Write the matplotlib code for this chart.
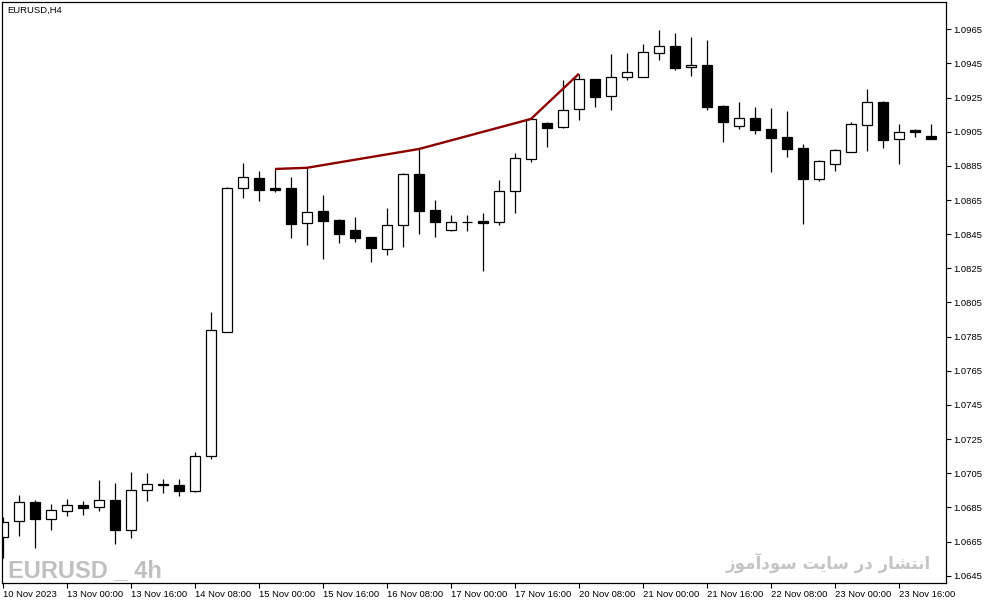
import matplotlib
matplotlib.use("Agg")
import matplotlib.pyplot as plt
from matplotlib.patches import Rectangle

plt.rcParams['font.family'] = ['Liberation Sans', 'DejaVu Sans']

# ---- data (EURUSD H4) ----
opens = [1.06678, 1.06769, 1.06882, 1.06784, 1.06827, 1.06864, 1.06851, 1.06892, 1.06719, 1.06950,
         1.06989, 1.06981, 1.06948, 1.07151, 1.07879, 1.08719, 1.08777, 1.08721, 1.08719, 1.08514,
         1.08584, 1.08531, 1.08473, 1.08432, 1.08366, 1.08501, 1.08801, 1.08590, 1.08473, 1.08520,
         1.08526, 1.08520, 1.08701, 1.08892, 1.09101, 1.09076, 1.09181, 1.09357, 1.09258, 1.09369,
         1.09369, 1.09509, 1.09552, 1.09427, 1.09441, 1.09201, 1.09085, 1.09129, 1.09066, 1.09019,
         1.08955, 1.08775, 1.08863, 1.08933, 1.09091, 1.09224, 1.09006, 1.09060, 1.09025]
highs = [1.06795, 1.06923, 1.06892, 1.06870, 1.06899, 1.06888, 1.07011, 1.06993, 1.07057, 1.07052,
         1.07015, 1.07015, 1.07175, 1.07993, 1.08725, 1.08867, 1.08820, 1.08832, 1.08785, 1.08839,
         1.08680, 1.08537, 1.08551, 1.08432, 1.08603, 1.08807, 1.08949, 1.08650, 1.08562, 1.08562,
         1.08572, 1.08767, 1.08924, 1.09125, 1.09105, 1.09353, 1.09390, 1.09357, 1.09505, 1.09511,
         1.09564, 1.09646, 1.09628, 1.09605, 1.09587, 1.09207, 1.09224, 1.09195, 1.09189, 1.09172,
         1.08978, 1.08885, 1.08949, 1.09107, 1.09300, 1.09230, 1.09095, 1.09064, 1.09095]
lows = [1.06552, 1.06684, 1.06614, 1.06718, 1.06801, 1.06806, 1.06831, 1.06637, 1.06671, 1.06889,
        1.06936, 1.06919, 1.06938, 1.07134, 1.07875, 1.08664, 1.08646, 1.08699, 1.08430, 1.08389,
        1.08307, 1.08400, 1.08406, 1.08289, 1.08329, 1.08377, 1.08453, 1.08435, 1.08470, 1.08471,
        1.08236, 1.08506, 1.08576, 1.08875, 1.08962, 1.09070, 1.09119, 1.09197, 1.09177, 1.09353,
        1.09369, 1.09470, 1.09412, 1.09377, 1.09177, 1.08992, 1.09066, 1.09039, 1.08814, 1.08904,
        1.08512, 1.08763, 1.08822, 1.08933, 1.08939, 1.08957, 1.08861, 1.09018, 1.09006]
closes = [1.06763, 1.06880, 1.06784, 1.06833, 1.06862, 1.06848, 1.06892, 1.06719, 1.06950, 1.06985,
          1.06979, 1.06948, 1.07151, 1.07887, 1.08719, 1.08783, 1.08711, 1.08711, 1.08512, 1.08578,
          1.08529, 1.08453, 1.08430, 1.08371, 1.08502, 1.08801, 1.08588, 1.08523, 1.08520, 1.08520,
          1.08517, 1.08701, 1.08895, 1.09125, 1.09074, 1.09176, 1.09357, 1.09255, 1.09369, 1.09398,
          1.09515, 1.09550, 1.09425, 1.09439, 1.09197, 1.09109, 1.09129, 1.09062, 1.09015, 1.08951,
          1.08775, 1.08877, 1.08941, 1.09094, 1.09224, 1.09003, 1.09047, 1.09050, 1.09009]

zz_index = [17, 19, 26, 33, 36]
zz_price = [1.08832, 1.08839, 1.08949, 1.09125, 1.09390]

x_tick_index = list(range(0, 57, 4))
x_tick_labels = ["10 Nov 2023", "13 Nov 00:00", "13 Nov 16:00", "14 Nov 08:00", "15 Nov 00:00",
                 "15 Nov 16:00", "16 Nov 08:00", "17 Nov 00:00", "17 Nov 16:00", "20 Nov 08:00",
                 "21 Nov 00:00", "21 Nov 16:00", "22 Nov 08:00", "23 Nov 00:00", "23 Nov 16:00"]
y_ticks = [1.0645 + 0.002 * k for k in range(17)]

title_text = "EURUSD,H4"
watermark_left = "EURUSD _ 4h"
watermark_fa = "انتشار در سایت سودآموز"

# ---- minimal Arabic-script shaping (presentation forms) ----
FORMS = {
    'ا': ('\uFE8D', '\uFE8E', None, None),
    'آ': ('\uFE81', '\uFE82', None, None),
    'ن': ('\uFEE5', '\uFEE6', '\uFEE7', '\uFEE8'),
    'ت': ('\uFE95', '\uFE96', '\uFE97', '\uFE98'),
    'ش': ('\uFEB5', '\uFEB6', '\uFEB7', '\uFEB8'),
    'ر': ('\uFEAD', '\uFEAE', None, None),
    'د': ('\uFEA9', '\uFEAA', None, None),
    'س': ('\uFEB1', '\uFEB2', '\uFEB3', '\uFEB4'),
    'ی': ('\uFBFC', '\uFBFD', '\uFEF3', '\uFEF4'),
    'و': ('\uFEED', '\uFEEE', None, None),
    'م': ('\uFEE1', '\uFEE2', '\uFEE3', '\uFEE4'),
    'ز': ('\uFEAF', '\uFEB0', None, None),
}


def shape(text):
    out = []
    for word in text.split(' '):
        res = []
        for j, ch in enumerate(word):
            f = FORMS.get(ch)
            if f is None:
                res.append(ch)
                continue
            prev_joins = j > 0 and FORMS.get(word[j - 1], (None,) * 4)[2] is not None
            next_ok = j < len(word) - 1 and f[2] is not None
            if prev_joins and next_ok:
                res.append(f[3])
            elif prev_joins:
                res.append(f[1])
            elif next_ok:
                res.append(f[2])
            else:
                res.append(f[0])
        out.append(''.join(res))
    return ' '.join(out)[::-1]


# ---- figure ----
W, H = 987, 605
fig = plt.figure(figsize=(W / 100, H / 100), dpi=100)
fig.patch.set_facecolor('white')
ax = fig.add_axes([2 / W, 1 - 583 / H, 944 / W, 581 / H])

bw = 0.62
for i, (o, h, l, c) in enumerate(zip(opens, highs, lows, closes)):
    ax.plot([i, i], [l, h], color='black', lw=0.9, zorder=1, solid_capstyle='butt')
    bottom = min(o, c)
    height = abs(c - o)
    face = 'white' if c >= o else 'black'
    ax.add_patch(Rectangle((i - bw / 2, bottom), bw, height, facecolor=face,
                           edgecolor='black', lw=0.9, zorder=2))

ax.plot(zz_index, zz_price, color='#8B0000', lw=1.7, zorder=3, solid_capstyle='butt')

ax.set_xlim(-0.0625, 58.94)
ax.set_ylim(1.06407, 1.09810)

ax.yaxis.tick_right()
ax.set_yticks(y_ticks)
ax.set_yticklabels([f"{v:.4f}" for v in y_ticks])
ax.set_xticks(x_tick_index)
ax.set_xticklabels(x_tick_labels, ha='left')
ax.tick_params(axis='both', direction='out', length=3.5, width=0.8, labelsize=6.8, colors='black')
ax.tick_params(axis='x', pad=1.5)
ax.tick_params(axis='y', pad=2.0)
for s in ax.spines.values():
    s.set_linewidth(0.9)
    s.set_color('black')

def px(x, y):
    return x / W, 1 - y / H

fig.text(*px(7, 10), title_text, fontsize=6.8, va='center', ha='left', color='black')
fig.text(*px(8, 577), watermark_left, fontsize=17, fontweight='bold',
         family=['Liberation Sans', 'DejaVu Sans'],
         color='#C0C0C0', va='baseline', ha='left')
fig.text(*px(931, 569), shape(watermark_fa), fontsize=12, fontweight='bold',
         family=['DejaVu Sans'], color='#C4C4C4', va='baseline', ha='right')

fig.savefig('out.png', dpi=100)
